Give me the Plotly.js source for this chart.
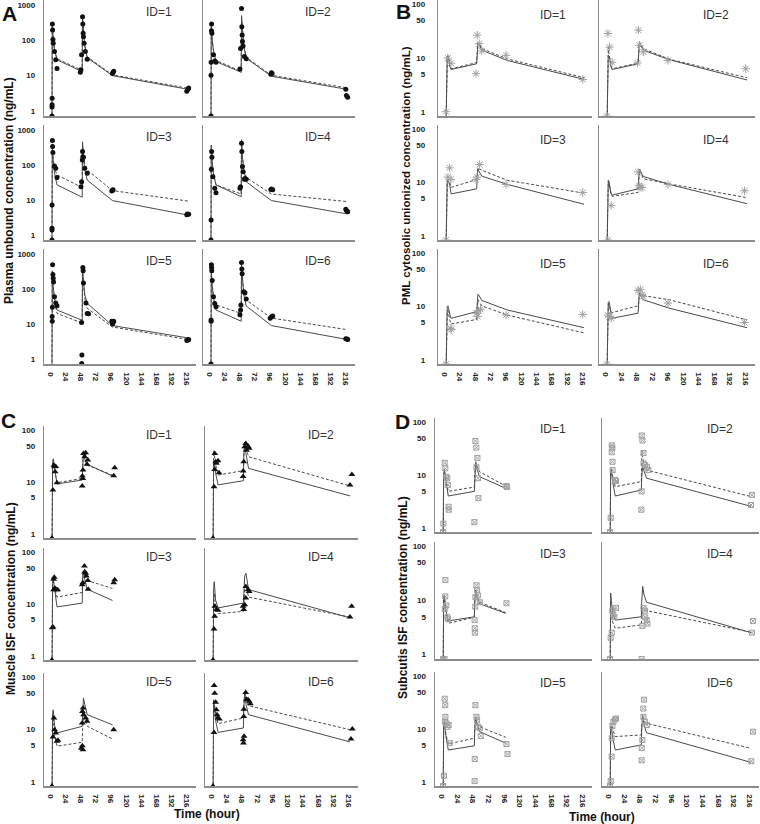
<!DOCTYPE html>
<html><head><meta charset="utf-8">
<script src="https://cdn.plot.ly/plotly-3.0.1.min.js"></script>
<style>html,body{margin:0;padding:0;background:#fff}#chart{width:760px;height:824px}</style>
</head><body><div id="chart"></div>
<script>
// ---------- shared ticks ----------
const X_TICKS = [0, 24, 48, 72, 96, 120, 144, 168, 192, 216];
const Y_TICKS_A = [1, 10, 100, 1000];
const Y_TICKS_BCD = [1, 5, 10, 50, 100];
const ID_LABELS = ['ID=1', 'ID=2', 'ID=3', 'ID=4', 'ID=5', 'ID=6'];

// ---------- Panel A : plasma unbound ----------
const A_predT = [0, 0.5, 1, 2, 4, 8, 48, 48.5, 49, 50, 52, 56, 96, 216];
const A1_solid  = [0.3, 330, 220, 110, 55, 28, 13, 480, 320, 160, 70, 32, 10, 4.1];
const A1_dashed = [0.3, 320, 215, 110, 56, 30, 14, 470, 315, 160, 72, 34, 10.5, 4.4];
const A2_solid  = [0.3, 300, 200, 100, 50, 25, 12.4, 500, 330, 160, 70, 31, 9.6, 4.1];
const A2_dashed = [0.3, 290, 195, 100, 52, 27, 13.2, 480, 320, 160, 72, 33, 10.2, 4.5];
const A3_solid  = [0.3, 400, 270, 130, 60, 27, 12, 460, 300, 150, 75, 37, 9.6, 3.7];
const A3_dashed = [0.3, 380, 260, 140, 80, 52, 22.6, 415, 290, 170, 110, 72, 18.5, 9.3];
const A4_solid  = [0.3, 370, 250, 120, 55, 27, 12.4, 520, 340, 170, 75, 33, 9.6, 4.0];
const A4_dashed = [0.3, 360, 245, 120, 56, 27, 14.8, 460, 310, 165, 85, 44, 14.8, 9.0];
const A5_solid  = [0.3, 330, 230, 120, 55, 25, 12.7, 370, 260, 140, 70, 39, 9, 4.0];
const A5_dashed = [0.3, 300, 210, 110, 48, 20, 10.6, 300, 215, 120, 55, 28, 8.2, 3.6];
const A6_solid  = [0.3, 370, 250, 120, 55, 25, 12, 500, 330, 160, 70, 32.6, 9, 3.6];
const A6_dashed = [0.3, 360, 250, 130, 65, 35, 20, 450, 310, 170, 90, 48, 14.7, 6.9];

const A1_obsT = [0, 0.1, 0.2, 0.3, 0.7, 1, 1.5, 2, 4, 6, 8, 45, 46, 47, 48.5, 49, 49.5, 50, 51, 53, 56, 96, 97, 98, 214, 216, 217];
const A1_obsC = [0.72, 1.3, 1.5, 2.3, 290, 195, 106, 82, 48, 28, 16, 12.4, 14.7, 38.7, 460, 287, 157, 126, 82, 48, 29, 11.4, 12.4, 13.2, 3.6, 4.2, 4.5];
const A2_obsT = [0, 0.1, 0.25, 0.75, 1, 1.5, 4, 6, 8, 46, 47, 48.5, 49, 49.5, 50, 51, 53, 56, 95, 96, 97, 214, 215, 217];
const A2_obsC = [0.72, 10.2, 24, 187, 290, 157, 39, 26, 24, 15.3, 59, 790, 240, 141, 92, 69, 35, 30, 11, 12, 11.5, 4.1, 2.75, 2.45];
const A3_obsT = [0, 0.1, 0.15, 0.2, 0.75, 1, 1.5, 4, 6, 8, 46, 47, 48.2, 48.5, 49, 50, 52, 56, 95, 96, 97, 214, 215, 217];
const A3_obsC = [0.72, 1.4, 1.55, 7.2, 500, 335, 225, 94, 80, 44, 24, 33, 138, 240, 172, 166, 80, 58, 18, 19, 19.5, 3.8, 4.0, 3.9];
const A4_obsT = [0, 0.2, 0.5, 1, 1.5, 3, 6, 8, 46, 47, 48.5, 49, 50, 51, 53, 54, 56, 95, 96, 98, 214, 215, 217];
const A4_obsC = [0.72, 2.7, 75, 240, 166, 46, 21.5, 16, 21.5, 24, 415, 240, 90, 64, 39, 41, 39, 20, 20.5, 19.5, 5.4, 5.0, 4.6];
const A5_obsT = [0.3, 0.5, 0.6, 1, 1.5, 2, 2.5, 4, 6, 8, 47, 47.2, 47.5, 49, 49.5, 50, 54, 56, 58, 95, 96, 97, 98, 214, 216, 217];
const A5_obsC = [16.4, 11.9, 30, 490, 257, 203, 157, 60, 40, 33, 11.1, 0.75, 1.3, 410, 333, 147, 40, 20, 19.5, 11.9, 10, 11, 12, 3.4, 3.5, 3.6];
const A6_obsT = [0, 0.2, 0.3, 0.75, 1, 1.25, 2, 4, 6, 8, 46, 47, 47.5, 48.5, 49, 49.5, 52, 54, 56, 94, 96, 98, 214, 216, 217];
const A6_obsC = [0.72, 13, 12, 490, 410, 333, 175, 60, 38.6, 31, 18.3, 25, 35, 570, 370, 270, 83, 78, 52, 14.5, 16, 17, 3.8, 3.7, 3.6];

// ---------- Panel B : PML cytosolic unionized ----------
const B_predT = [0, 1, 2, 3, 4, 6, 8, 48, 49, 50, 52, 56, 96, 216];
const B1_solid  = [0.5, 5, 10.5, 11, 10, 7, 6.1, 7.8, 12, 19, 18, 14, 9.0, 4.0];
const B1_dashed = [0.5, 5, 10.5, 11, 10, 7.2, 6.3, 8.2, 12.5, 19.5, 18.5, 15, 9.6, 4.3];
const B2_solid  = [0.5, 5, 11, 11, 10.5, 7, 6.1, 7.8, 12, 19, 17, 14, 9.3, 3.9];
const B2_dashed = [0.5, 8, 16, 12, 10, 7.2, 6.3, 8, 13, 20, 18, 15, 9.5, 4.3];
const B3_solid  = [0.5, 5, 10.9, 11, 10.5, 9, 6.1, 7.6, 12, 18, 16, 13.2, 9.2, 3.9];
const B3_dashed = [0.5, 5, 11, 11, 10.5, 10, 8.1, 11.4, 14, 19, 18, 17, 11, 6.3];
const B4_solid  = [0.5, 5, 11, 10.5, 9, 6.5, 5.8, 7.6, 12, 17.7, 16, 13, 9.2, 4.0];
const B4_dashed = [0.5, 5, 10.5, 10, 8.5, 6, 5.5, 6.5, 11, 17, 15, 11.8, 9.4, 5.2];
const B5_solid  = [0.5, 5, 10, 10.3, 9.5, 7, 6, 8, 12, 17, 16, 13, 8.6, 4.0];
const B5_dashed = [0.5, 4, 8, 8.5, 7, 5.5, 4.7, 5.7, 9, 13.4, 12, 10.3, 6.9, 3.2];
const B6_solid  = [0.5, 6, 12, 12.4, 11, 7.5, 6, 7.5, 12, 17.9, 16, 13.4, 9.3, 4.0];
const B6_dashed = [0.5, 6, 11, 11.2, 10, 8, 7.7, 10.3, 13, 17.2, 16.5, 16, 13.4, 5.6];

const B1_obsT = [0, 3, 8, 47, 49, 52, 56, 94, 214];
const B1_obsC = [1.0, 10, 8, 5.1, 26.6, 18.5, 13.5, 11.2, 4.0];
const B2_obsT = [0, 1.5, 4, 8, 47, 48.5, 50, 56, 94, 214];
const B2_obsC = [0.83, 28.6, 16, 8.3, 8.1, 33, 17.2, 13, 9, 6.3];
const B3_obsT = [0, 3, 5.7, 7.8, 47, 48.5, 52.7, 94, 214];
const B3_obsC = [0.83, 12.6, 18.8, 11.4, 11.4, 12.6, 21.7, 9.2, 6.5];
const B4_obsT = [1.5, 6.5, 48, 49.5, 51, 54, 94, 212];
const B4_obsC = [0.83, 3.7, 15.8, 8.8, 8.1, 8.1, 9.2, 7.0];
const B5_obsT = [0, 6.8, 8.3, 47.5, 49.5, 51, 54, 94, 214];
const B5_obsC = [0.83, 3.9, 3.7, 7.5, 6.5, 8.3, 8.9, 6.9, 7.1];
const B6_obsT = [0, 1.5, 4, 6.7, 48, 51.4, 54, 55.5, 94, 212];
const B6_obsC = [0.83, 6.9, 6.5, 6, 20, 21, 16.6, 15.5, 11.6, 5.0];

// ---------- Panel C : muscle ISF ----------
const C_predT_short = [0, 0.5, 1, 2, 4, 8, 48, 48.5, 49, 50, 52, 56, 96];
const C_predT_long  = [0, 0.5, 1, 2, 4, 8, 48, 48.5, 49, 50, 52, 56, 216];
const C1_solid  = [0.3, 10, 22, 28, 18, 9.2, 10.9, 20, 30, 38, 28, 22, 13];
const C1_dashed = [0.3, 10, 20, 26, 17, 9.7, 11.7, 20, 28, 35, 27, 21, 13.6];
const C2_solid  = [0.3, 15, 26, 24, 15, 8.8, 10.6, 30, 50, 59, 35, 18.3, 5.4];
const C2_dashed = [0.3, 20, 40, 35, 22, 13.6, 16.6, 35, 52, 59, 45, 30.7, 8.4];
const C3_solid  = [0.3, 10, 25, 31, 20, 8.8, 10.4, 30, 40, 42, 30, 19.3, 11.7];
const C3_dashed = [0.3, 10, 24, 30, 21, 13.6, 16.7, 30, 38, 40, 35, 28.4, 20];
const C4_solid  = [0.3, 8, 20, 27, 12, 8.4, 10.4, 15, 25, 35, 39, 19, 5.4];
const C4_dashed = [0.3, 6, 12, 16, 9, 6.5, 7.2, 10, 15, 20, 23, 13.6, 5.6];
const C5_solid  = [0.3, 10, 20, 23.8, 12, 8.6, 11.5, 18, 28, 40, 30, 19.2, 12.3];
const C5_dashed = [0.3, 8, 15, 18, 8, 4.8, 5.7, 9, 13, 20, 16, 11.5, 6.6];
const C6_solid  = [0.3, 20, 37, 30, 15, 8.8, 10.7, 25, 40, 53, 30, 19.2, 5.8];
const C6_dashed = [0.3, 20, 37, 32, 20, 12.9, 16.6, 28, 42, 50, 38, 28.5, 9.9];

const C1_obsT = [0, 1.5, 3, 4, 5, 6, 8, 48, 48.2, 49, 49.2, 50, 52, 53.5, 55.6, 57, 98, 99.5];
const C1_obsC = [0.83, 7, 21, 19.7, 15.8, 20, 9.7, 8.4, 13, 11.7, 17, 35.6, 30.6, 36.6, 22, 26.5, 13.2, 18.9];
const C2_obsT = [0, 1.6, 2.6, 2.8, 4.2, 5.3, 7.9, 9.5, 47.4, 47.6, 48.5, 50, 51.6, 52.7, 55.3, 57, 216, 219];
const C2_obsC = [0.83, 8.1, 17.5, 35.6, 24.6, 22.9, 25.6, 15.1, 12.7, 16.3, 24.6, 47.6, 55, 41, 49, 44.6, 8.8, 14];
const C3_obsT = [0, 0.5, 1.6, 2.6, 2.7, 3.7, 4.8, 6.9, 9, 48, 49, 51.5, 52, 53.5, 54.5, 57, 57.5, 98, 99.5];
const C3_obsC = [0.83, 3.5, 3.6, 18.8, 30, 32.7, 20.2, 18.8, 18.8, 23.4, 25.8, 54, 42, 39, 34.8, 28.4, 19.3, 25.8, 29.2];
const C4_obsT = [0, 1.6, 2.6, 2.8, 5.3, 7.9, 47.4, 48.5, 50, 51.6, 51.8, 55.3, 57, 216, 218.6];
const C4_obsC = [0.83, 3.3, 5.8, 9, 7.8, 7.6, 9, 7.8, 9.7, 13, 21.7, 18.8, 17.5, 5.6, 9];
const C5_obsT = [0, 1.6, 3.2, 4.2, 5.8, 7.9, 9.5, 46.6, 48, 48.2, 48.4, 49.2, 49.4, 50.3, 53.5, 55.6, 98];
const C5_obsC = [0.83, 7.2, 16.5, 9.9, 8.6, 5.95, 6.2, 4.4, 13.3, 4.9, 22, 4.1, 25.7, 19.2, 16.5, 14.3, 9.9];
const C6_obsT = [0, 1.6, 1.8, 2.6, 4.2, 5.3, 6.3, 7.9, 10, 47.5, 48, 48.5, 48.7, 49, 51.6, 52.7, 55.3, 57, 59, 217.6, 219.7];
const C6_obsC = [0.83, 8.8, 69, 49.4, 33, 23.8, 19.2, 16.5, 15.8, 6.4, 5.5, 17.8, 24.5, 7.4, 51, 38, 37, 34.5, 31, 6.6, 10.2];

// ---------- Panel D : subcutis ISF ----------
const D_predT_short = [0, 0.5, 1, 2, 4, 8, 48, 48.5, 49, 50, 52, 56, 96];
const D_predT_long  = [0, 0.5, 1, 2, 4, 8, 48, 48.5, 49, 50, 52, 56, 216];
const D1_solid  = [0.3, 5, 10, 12.8, 8, 4, 4.9, 9, 14, 16.6, 13, 9.3, 5.6];
const D1_dashed = [0.3, 5, 10, 13, 8.5, 4.9, 5.9, 10, 15, 17.8, 15, 11.5, 6.2];
const D2_solid  = [0.3, 6, 11, 12.4, 7.5, 4, 5.2, 9, 13, 14.7, 12, 8.7, 2.55];
const D2_dashed = [0.3, 6, 12, 14, 9, 6, 7.5, 18, 29.4, 22, 16, 12.4, 3.9];
const D3_solid  = [0.3, 6, 11, 12.4, 7, 4.2, 5, 9, 13, 15.4, 12, 8.7, 5.8];
const D3_dashed = [0.3, 6, 11, 12, 6.5, 3.8, 4.9, 9, 13, 15, 12, 9.3, 6.0];
const D4_solid  = [0.3, 8, 13.7, 10, 6, 4.35, 5, 9, 15, 18.3, 13, 9.3, 2.55];
const D4_dashed = [0.3, 4, 6.8, 6, 4, 3.07, 3.55, 4.5, 5.5, 6.5, 6.5, 6.5, 2.6];
const D5_solid  = [0.3, 6, 11, 13.7, 8, 4.0, 4.8, 9, 14, 17, 12, 8.9, 5.4];
const D5_dashed = [0.3, 6, 11, 13, 8.5, 5.2, 6.7, 10, 14, 16, 13, 11, 7];
const D6_solid  = [0.3, 6, 10, 11.4, 7, 4.0, 5, 9, 15, 18.3, 12, 8.5, 2.33];
const D6_dashed = [0.3, 6, 11, 13, 10, 7.2, 7.7, 11, 15, 17, 14, 12.8, 4.3];

const D1_obsT = [0, 0.5, 2.5, 3.5, 5, 6.5, 7.5, 8.5, 8.8, 48, 49.6, 51, 52.7, 51.2, 53.7, 54.2, 97, 98];
const D1_obsC = [0.83, 1.2, 17, 13.4, 9.3, 8.7, 6.5, 2.5, 2.2, 1.28, 44, 33, 21, 14, 8.7, 3.65, 6.2, 5.9];
const D2_obsT = [0, 1, 2.5, 2.7, 3.6, 3.8, 4, 7.7, 9.2, 48, 48.4, 48.6, 49.6, 51.2, 51.4, 53.7, 56.3, 58.8, 216, 217.5];
const D2_obsC = [0.83, 1.54, 27, 36.5, 33, 17.8, 12.4, 8.1, 7.7, 2.2, 4.9, 56, 45, 26, 16.6, 15.4, 14.3, 12.4, 2.7, 4.2];
const D3_obsT = [0, 2.4, 2.6, 3.4, 3.6, 5.1, 6.7, 7.7, 48.4, 48.6, 48.8, 49.4, 49.6, 51.2, 52.2, 53.7, 56.3, 97.2];
const D3_obsC = [0.83, 0.83, 7, 11.9, 23.8, 8.1, 4.9, 4.5, 4.35, 3.07, 2.55, 7.7, 11.5, 19.1, 15.4, 12.4, 9.3, 8.9];
const D4_obsT = [0, 1, 2.6, 3.6, 5.1, 6.7, 9.2, 48.6, 49.6, 51.2, 53.7, 53.9, 56.3, 57.3, 217.5, 219];
const D4_obsC = [0.83, 2.05, 2.55, 6.5, 5.5, 4.9, 7.3, 0.83, 3.4, 7.3, 6.5, 4.9, 4.35, 3.75, 2.55, 4.2];
const D5_obsT = [0, 1.5, 2.6, 2.8, 3.4, 3.6, 5.1, 6.7, 8.7, 10.2, 48.4, 48.6, 49.6, 51.2, 52.2, 53.7, 56.3, 57.8, 97.2, 98.8];
const D5_obsC = [0.83, 1.3, 37.5, 13.7, 28.3, 17, 12.8, 11, 11.9, 5.4, 1.03, 2.7, 28.3, 17, 14.7, 11, 10.3, 7.4, 5.2, 3.35];
const D6_obsT = [0, 1, 2.4, 2.6, 3.6, 5.1, 7.7, 9.2, 48.4, 48.6, 49.6, 51, 51.2, 52.2, 53.7, 56.3, 216.5, 219];
const D6_obsC = [0.83, 1.03, 3.0, 6.7, 11.4, 13.7, 15.2, 15.8, 2.55, 4.35, 6.2, 24.4, 17, 36, 13.7, 11.9, 2.45, 8.9];

// ---------- layout construction ----------
const W = 760, H = 824;
const FONT = 'Liberation Sans, Arial, sans-serif';
const AXIS_COLOR = '#8c8c8c';
const LINE_COLOR = '#4a4a4a';

const panels = [
  { cols: [[44.4, 195.6], [203.4, 354.6]], rows: [[0, 116], [125, 240], [249, 364]],
    yrange: [Math.log10(0.72), 3.14], yticks: Y_TICKS_A, ystand: 6, idPos: [0.76, 0.1],
    marker: { symbol: 'circle', size: 5, color: '#111' },
    subs: [
      [A1_obsT, A1_obsC, A_predT, A1_solid, A1_dashed],
      [A2_obsT, A2_obsC, A_predT, A2_solid, A2_dashed],
      [A3_obsT, A3_obsC, A_predT, A3_solid, A3_dashed],
      [A4_obsT, A4_obsC, A_predT, A4_solid, A4_dashed],
      [A5_obsT, A5_obsC, A_predT, A5_solid, A5_dashed],
      [A6_obsT, A6_obsC, A_predT, A6_solid, A6_dashed]] },
  { cols: [[438.3, 591.7], [599.2, 754.8]], rows: [[0, 116], [125, 240], [249, 364]],
    yrange: [-0.08, 2.08], yticks: Y_TICKS_BCD, ystand: 10, idPos: [0.75, 0.13],
    marker: { symbol: 'asterisk-open', size: 7, color: '#a0a0a0', line: { color: '#a0a0a0', width: 1 } },
    subs: [
      [B1_obsT, B1_obsC, B_predT, B1_solid, B1_dashed],
      [B2_obsT, B2_obsC, B_predT, B2_solid, B2_dashed],
      [B3_obsT, B3_obsC, B_predT, B3_solid, B3_dashed],
      [B4_obsT, B4_obsC, B_predT, B4_solid, B4_dashed],
      [B5_obsT, B5_obsC, B_predT, B5_solid, B5_dashed],
      [B6_obsT, B6_obsC, B_predT, B6_solid, B6_dashed]] },
  { cols: [[44.4, 195.6], [205.4, 357.6]], rows: [[426, 538], [548, 660], [673, 786]],
    yrange: [-0.08, 2.08], yticks: Y_TICKS_BCD, ystand: 6, idPos: [0.76, 0.08],
    marker: { symbol: 'triangle-up', size: 6, color: '#111' },
    subs: [
      [C1_obsT, C1_obsC, C_predT_short, C1_solid, C1_dashed],
      [C2_obsT, C2_obsC, C_predT_long, C2_solid, C2_dashed],
      [C3_obsT, C3_obsC, C_predT_short, C3_solid, C3_dashed],
      [C4_obsT, C4_obsC, C_predT_long, C4_solid, C4_dashed],
      [C5_obsT, C5_obsC, C_predT_short, C5_solid, C5_dashed],
      [C6_obsT, C6_obsC, C_predT_long, C6_solid, C6_dashed]] },
  { cols: [[435.2, 591.8], [602.2, 758.8]], rows: [[418, 532], [542, 659], [672, 786]],
    yrange: [-0.08, 2.08], yticks: Y_TICKS_BCD, ystand: 6, idPos: [0.75, 0.1],
    marker: { symbol: 'square-x-open', size: 5, color: '#a0a0a0', line: { color: '#a0a0a0', width: 1 } },
    subs: [
      [D1_obsT, D1_obsC, D_predT_short, D1_solid, D1_dashed],
      [D2_obsT, D2_obsC, D_predT_long, D2_solid, D2_dashed],
      [D3_obsT, D3_obsC, D_predT_short, D3_solid, D3_dashed],
      [D4_obsT, D4_obsC, D_predT_long, D4_solid, D4_dashed],
      [D5_obsT, D5_obsC, D_predT_short, D5_solid, D5_dashed],
      [D6_obsT, D6_obsC, D_predT_long, D6_solid, D6_dashed]] }
];

const traces = [];
const layout = {
  width: W, height: H, autosize: false,
  margin: { l: 0, r: 0, t: 0, b: 0, pad: 0 },
  showlegend: false, paper_bgcolor: '#fff', plot_bgcolor: 'rgba(0,0,0,0)',
  font: { family: FONT, color: '#222' },
  annotations: []
};

let idx = 0;
panels.forEach(p => {
  p.subs.forEach((sd, i) => {
    idx++;
    const row = Math.floor(i / 2), col = i % 2;
    const [x0, x1] = p.cols[col], [y0, y1] = p.rows[row];
    const xa = idx === 1 ? 'xaxis' : 'xaxis' + idx;
    const ya = idx === 1 ? 'yaxis' : 'yaxis' + idx;
    const xr = idx === 1 ? 'x' : 'x' + idx;
    const yr = idx === 1 ? 'y' : 'y' + idx;
    layout[xa] = {
      domain: [x0 / W, x1 / W], range: [-12, 228], anchor: yr,
      showline: true, linecolor: AXIS_COLOR, linewidth: 1.6, showgrid: false, zeroline: false,
      ticks: '', tickmode: 'array', tickvals: X_TICKS, ticktext: X_TICKS.map(String),
      showticklabels: row === 2, ticklabelstandoff: 1,
      tickfont: { family: FONT, size: 8, color: '#222', weight: 700 }, fixedrange: true
    };
    layout[ya] = {
      domain: [1 - y1 / H, 1 - y0 / H], type: 'log', range: p.yrange, anchor: xr,
      showline: true, linecolor: AXIS_COLOR, linewidth: 1.6, showgrid: false, zeroline: false,
      ticks: '', tickmode: 'array', tickvals: p.yticks, ticktext: p.yticks.map(String),
      showticklabels: col === 0, ticklabelstandoff: p.ystand,
      tickfont: { family: FONT, size: 8, color: '#222', weight: 700 }, fixedrange: true
    };
    const [obsT, obsC, predT, solid, dashed] = sd;
    traces.push({ x: predT, y: solid, xaxis: xr, yaxis: yr, mode: 'lines',
      line: { color: LINE_COLOR, width: 1 }, hoverinfo: 'skip' });
    traces.push({ x: predT, y: dashed, xaxis: xr, yaxis: yr, mode: 'lines',
      line: { color: LINE_COLOR, width: 1, dash: '3px,2px' }, hoverinfo: 'skip' });
    traces.push({ x: obsT, y: obsC, xaxis: xr, yaxis: yr, mode: 'markers',
      marker: p.marker, hoverinfo: 'skip' });
    layout.annotations.push({
      text: ID_LABELS[i], xref: 'paper', yref: 'paper', showarrow: false,
      x: (x0 + p.idPos[0] * (x1 - x0)) / W, y: 1 - (y0 + p.idPos[1] * (y1 - y0)) / H,
      xanchor: 'center', yanchor: 'middle',
      font: { family: FONT, size: 12, color: '#333' }
    });
  });
});

function ann(text, px, py, size, angle, extra) {
  layout.annotations.push(Object.assign({
    text: text, xref: 'paper', yref: 'paper', showarrow: false,
    x: px / W, y: 1 - py / H, xanchor: 'center', yanchor: 'middle',
    textangle: angle || 0,
    font: { family: FONT, size: size, color: '#111', weight: 700 }
  }, extra || {}));
}
// panel letters
ann('A', 9, 13, 21);
ann('B', 403, 11, 21);
ann('C', 8, 420, 21);
ann('D', 402, 421, 21);
// axis titles
ann('Plasma unbound concentration (ng/mL)', 9, 191, 12, -90);
ann('PML cytosolic unionized concentration (ng/mL)', 406, 176, 11.5, -90);
ann('Muscle ISF concentration (ng/mL)', 11, 599, 12, -90);
ann('Subcutis ISF concentration (ng/mL)', 403, 598, 12, -90);
ann('Time (hour)', 207, 814, 12);
ann('Time (hour)', 602, 817, 12);

Plotly.newPlot('chart', traces, layout, { staticPlot: true, displayModeBar: false });
</script>
</body></html>
